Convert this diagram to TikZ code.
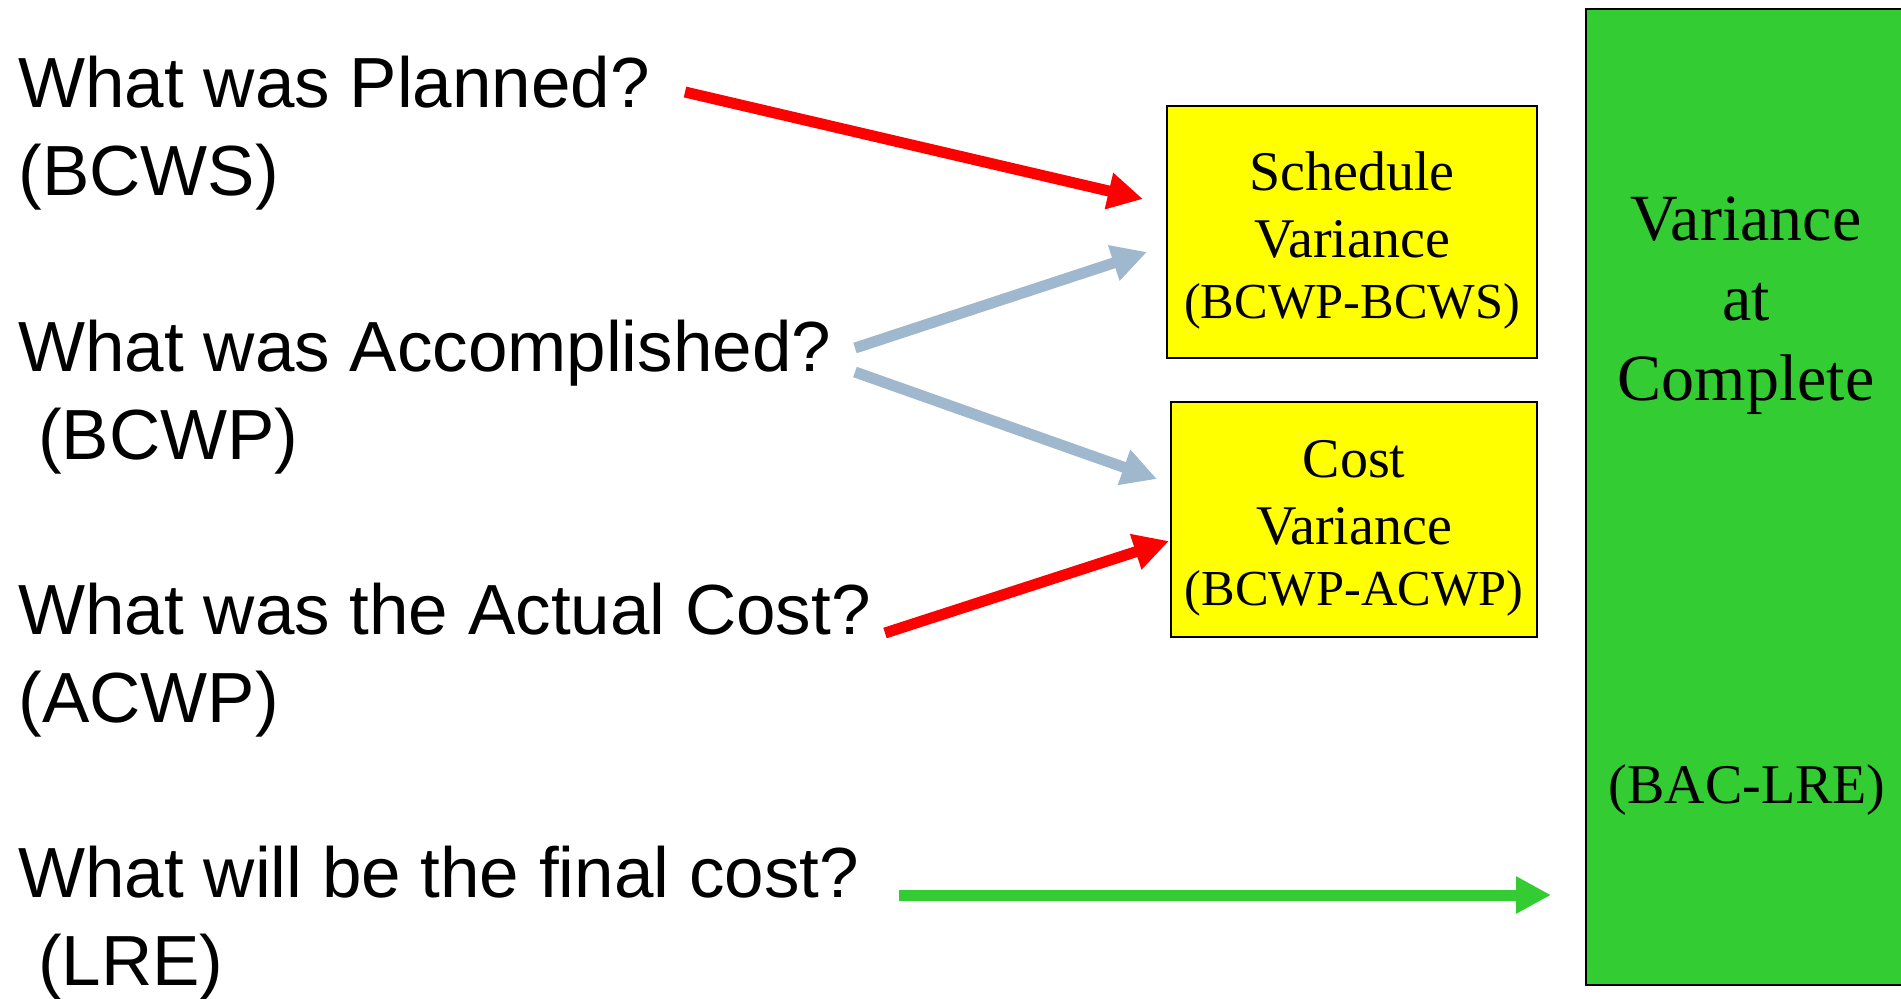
\documentclass[tikz,border=0pt]{standalone}
\usepackage{fontspec}
\setmainfont{Liberation Serif}
\newfontfamily\qfont{Liberation Sans}
\usetikzlibrary{arrows.meta}
\definecolor{arrowred}{RGB}{255,0,0}
\definecolor{steel}{RGB}{160,184,206}
\definecolor{vgreen}{RGB}{51,204,51}
\definecolor{vyellow}{RGB}{255,255,0}
% line sizes inside the variance boxes
\newcommand{\headline}[1]{{\fontsize{28pt}{33.5pt}\selectfont\rule{0pt}{27.5pt}#1}}
\newcommand{\midline}[1]{{\fontsize{28pt}{33.5pt}\selectfont #1}}
\newcommand{\formline}[1]{{\fontsize{25.2pt}{33.5pt}\selectfont #1}}

\begin{document}
\begin{tikzpicture}[x=0.5pt,y=-0.5pt,
  question/.style={anchor=base west, align=left, inner sep=0pt,
    font=\qfont\fontsize{35.5pt}{44pt}\selectfont},
  varbox/.style={draw=black, line width=1pt, fill=vyellow, inner sep=0pt,
    align=center, font=\fontsize{28pt}{33.5pt}\selectfont},
  flow/.style={line width=5.5pt, -{Triangle[length=17.5pt,width=17.5pt]}},
]
\clip (0,0) rectangle (1901,998);
\fill[white] (0,0) rectangle (1901,998);

% questions on the left (anchored on the baseline of their last line)
\node[question] (plan)   at (18,195) {What was Planned?\\(BCWS)};
\node[question] (done)   at (18,459) {What was Accomplished?\\\hspace*{0.278em}(BCWP)};
\node[question] (actual) at (18,722) {What was the Actual Cost?\\(ACWP)};
\node[question] (final)  at (18,985) {What will be the final cost?\\\hspace*{0.278em}(LRE)};

% variance boxes
\node[varbox, minimum width=185pt, minimum height=126pt] (sv) at (1352,232)
  {\headline{Schedule}\\\midline{Variance}\\[-3pt]\formline{(BCWP-BCWS)}};
\node[varbox, minimum width=183pt, minimum height=117.5pt] (cv) at (1354,519.5)
  {\headline{Cost}\\\midline{Variance}\\[-3pt]\formline{(BCWP-ACWP)}};

% variance at complete column
\node[draw=black, line width=1pt, fill=vgreen, minimum width=163pt,
  minimum height=488pt, inner sep=0pt] (vac) at (1749,497) {};
\node[font=\fontsize{33pt}{40pt}\selectfont, align=center, inner sep=0pt,
  anchor=base] (vactext) at (1746,400) {Variance\\at\\Complete};
\node[font=\fontsize{28pt}{34pt}\selectfont, inner sep=0pt, anchor=base]
  (vacform) at (1747,803) {(BAC-LRE)};

% arrow end points
\coordinate (r1s) at (685,92);  \coordinate (r1e) at (1143,199);
\coordinate (b1s) at (855,348); \coordinate (b1e) at (1147,252);
\coordinate (b2s) at (855,372); \coordinate (b2e) at (1157,479);
\coordinate (r2s) at (885,633); \coordinate (r2e) at (1169,541);
\coordinate (gs)  at (899,895); \coordinate (ge)  at (1551,895);

\draw[flow, arrowred] (r1s) -- (r1e);
\draw[flow, steel]    (b1s) -- (b1e);
\draw[flow, steel]    (b2s) -- (b2e);
\draw[flow, arrowred] (r2s) -- (r2e);
\draw[flow, vgreen]   (gs)  -- (ge);
\end{tikzpicture}
\end{document}
